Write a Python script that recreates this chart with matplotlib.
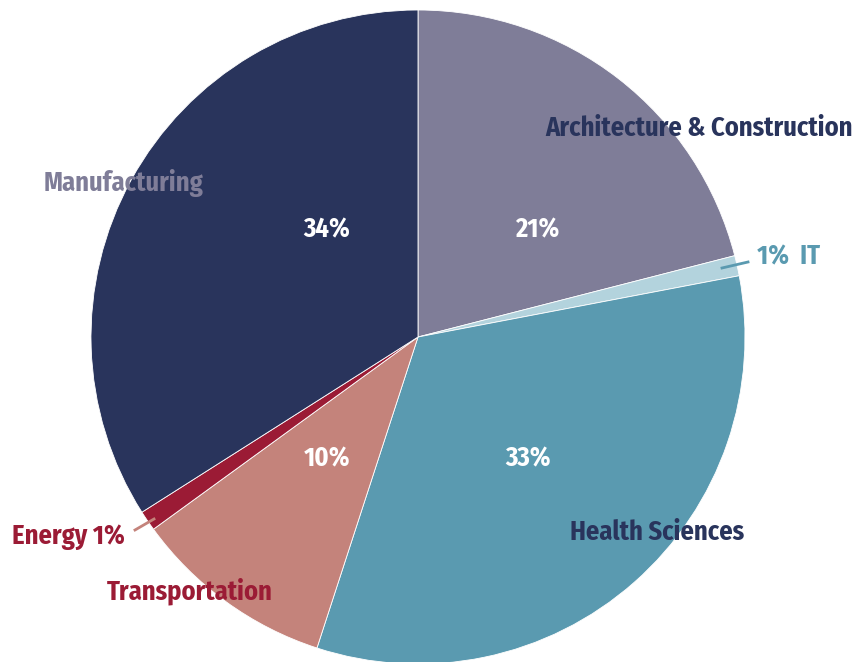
import matplotlib
matplotlib.use("Agg")
from matplotlib import pyplot as plt

sectors = ["Architecture & Construction", "IT", "Health Sciences",
           "Transportation", "Energy", "Manufacturing"]
shares = [21, 1, 33, 10, 1, 34]
colors = ["#7f7d98", "#b3d3dd", "#5a9ab0", "#c4837b", "#9b1b35", "#29345c"]

plt.rcParams['font.family'] = ['Fira Sans Condensed', 'DejaVu Sans']

fig = plt.figure(figsize=(8.53, 6.62), dpi=100)
ax = fig.add_axes([0, 0, 1, 1])

H = 662
ax.pie(shares, colors=colors, startangle=90, counterclock=False,
       center=(418, H - 337), radius=327,
       wedgeprops=dict(edgecolor='white', linewidth=0.6))
ax.set_xlim(0, 853)
ax.set_ylim(0, 662)
ax.set_aspect('equal')
ax.axis('off')

fs = 19
bold = dict(fontweight='bold', fontsize=fs)

# percentages inside slices
ax.text(327, H - 230, f"{shares[5]}%", color='white', ha='center', va='center', **bold)
ax.text(537, H - 230, f"{shares[0]}%", color='white', ha='center', va='center', **bold)
ax.text(327, H - 459, f"{shares[3]}%", color='white', ha='center', va='center', **bold)
ax.text(528, H - 459, f"{shares[2]}%", color='white', ha='center', va='center', **bold)

# sector names
ax.text(545, H - 128, sectors[0], color='#29345c', ha='left', va='center', **bold)
ax.text(757, H - 257, f"{shares[1]}%  {sectors[1]}", color='#5a9ab0', ha='left', va='center', **bold)
ax.text(570, H - 532, sectors[2], color='#29345c', ha='left', va='center', **bold)
ax.text(107, H - 591, sectors[3], color='#9b1b35', ha='left', va='center', **bold)
ax.text(12, H - 537, f"{sectors[4]} {shares[4]}%", color='#9b1b35', ha='left', va='center', **bold)
ax.text(44, H - 183, sectors[5], color='#7f7d98', ha='left', va='center', **bold)

# leader lines
ax.plot([722, 748], [H - 268, H - 262], color='#5a9ab0', linewidth=2)
ax.plot([135, 154], [H - 530, H - 519], color='#c4837b', linewidth=2)

fig.savefig("out.png", dpi=100)
